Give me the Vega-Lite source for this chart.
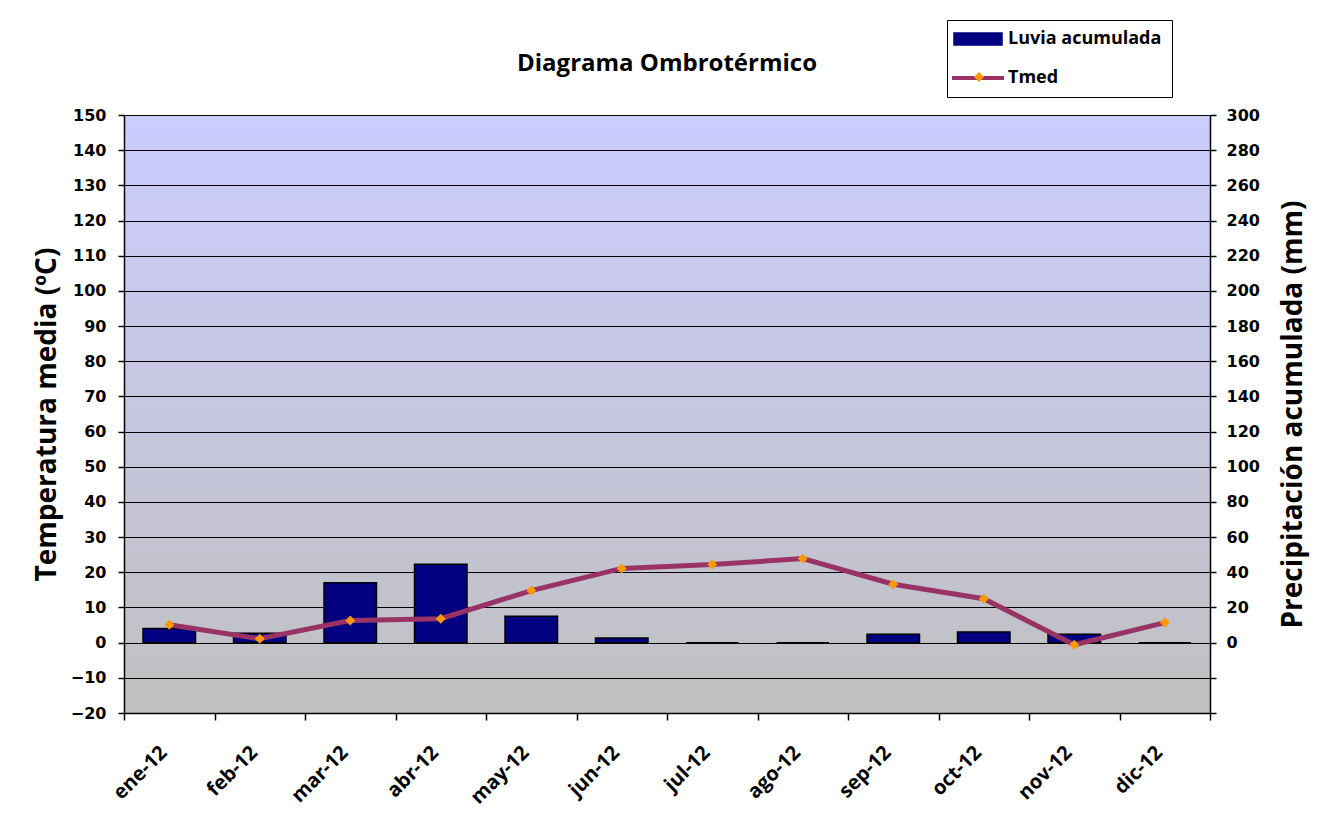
{
  "$schema": "https://vega.github.io/schema/vega-lite/v6.json",
  "width": 1086,
  "height": 598,
  "autosize": {"type": "none"},
  "padding": {"left": 124, "top": 115, "right": 111, "bottom": 124},
  "background": "white",
  "title": {"text": "Diagrama Ombrotérmico", "font": "Open Sans", "fontSize": 24, "fontWeight": "bold", "color": "black", "anchor": "middle", "offset": 44, "dy": 100},
  "config": {
    "view": {"stroke": "black", "strokeWidth": 1, "fill": {"gradient": "linear", "x1": 0, "y1": 0, "x2": 0, "y2": 1, "stops": [{"offset": 0, "color": "#ccccff"}, {"offset": 1, "color": "#c0c0c0"}]}},
    "axis": {"domainColor": "black", "tickColor": "black", "labelColor": "black", "titleColor": "black", "labelFont": "DejaVu Sans", "labelFontWeight": "bold", "labelFontSize": 16, "titleFont": "Open Sans", "titleFontWeight": "bold", "titleFontSize": 28, "domainWidth": 1.5, "tickWidth": 1.5}
  },
  "data": {"values": [
    {"mes": "ene-12", "tmed": 5.1, "lluvia": 8},
    {"mes": "feb-12", "tmed": 1.1, "lluvia": 5.4},
    {"mes": "mar-12", "tmed": 6.3, "lluvia": 34},
    {"mes": "abr-12", "tmed": 6.8, "lluvia": 44.6},
    {"mes": "may-12", "tmed": 14.8, "lluvia": 15},
    {"mes": "jun-12", "tmed": 21.1, "lluvia": 2.6},
    {"mes": "jul-12", "tmed": 22.2, "lluvia": 0},
    {"mes": "ago-12", "tmed": 23.9, "lluvia": 0},
    {"mes": "sep-12", "tmed": 16.6, "lluvia": 4.8},
    {"mes": "oct-12", "tmed": 12.5, "lluvia": 6},
    {"mes": "nov-12", "tmed": -0.6, "lluvia": 4.8},
    {"mes": "dic-12", "tmed": 5.7, "lluvia": 0}
  ]},
  "encoding": {
    "x": {"field": "mes", "type": "nominal", "sort": null,
      "scale": {"paddingInner": 0, "paddingOuter": 0},
      "axis": {"title": null, "labelAngle": -45, "tickBand": "extent", "tickSize": 7, "labelPadding": 22, "labelOffset": -13, "labelFont": "Open Sans", "labelFontSize": 20}}
  },
  "layer": [
    {
      "mark": {"type": "bar", "stroke": "black", "strokeWidth": 1.5, "width": {"band": 0.58}},
      "encoding": {
        "y": {"field": "lluvia", "type": "quantitative",
          "scale": {"domain": [-40, 300], "nice": false, "zero": true},
          "axis": {"orient": "right", "grid": false, "values": [-40, -20, 0, 20, 40, 60, 80, 100, 120, 140, 160, 180, 200, 220, 240, 260, 280, 300],
            "labelExpr": "datum.value < 0 ? '' : datum.label", "tickSize": 6, "labelPadding": 10,
            "title": "Precipitación acumulada (mm)", "titleAngle": 270, "titleBaseline": "top", "titlePadding": 20}},
        "color": {"datum": "Luvia acumulada",
          "scale": {"domain": ["Luvia acumulada", "Tmed"], "range": ["#000080", "#993366"]},
          "legend": {"orient": "none", "legendX": 823, "legendY": -95, "title": null,
            "padding": 10, "rowPadding": 21, "symbolSize": 400, "labelOffset": 33,
            "labelFont": "Open Sans", "labelFontWeight": "bold", "labelFontSize": 18, "labelColor": "black",
            "strokeColor": "black", "fillColor": "white",
            "encode": {"symbols": {"update": {
              "shape": {"signal": "datum.value === 'Tmed' ? 'M-1.4,0L3.8,0' : 'M-1.2,-0.6L3.6,-0.6L3.6,0.6L-1.2,0.6Z'"},
              "fill": {"signal": "datum.value === 'Tmed' ? 'transparent' : '#000080'"},
              "stroke": {"signal": "datum.value === 'Tmed' ? '#993366' : 'black'"},
              "strokeWidth": {"signal": "datum.value === 'Tmed' ? 4 : 1.5"},
              "opacity": {"value": 1}
            }}}}}
      }
    },
    {
      "encoding": {
        "y": {"field": "tmed", "type": "quantitative",
          "scale": {"domain": [-20, 150], "nice": false},
          "axis": {"orient": "left", "grid": true, "gridColor": "black", "gridWidth": 1.2, "gridOpacity": 1,
            "values": [-20, -10, 0, 10, 20, 30, 40, 50, 60, 70, 80, 90, 100, 110, 120, 130, 140, 150],
            "tickSize": 6, "labelPadding": 12, "title": "Temperatura media (ºC)", "titlePadding": 9}}
      },
      "layer": [
        {"mark": {"type": "line", "strokeWidth": 5},
         "encoding": {"color": {"datum": "Tmed",
          "legend": {"orient": "none", "legendX": 823, "legendY": -95, "title": null,
            "padding": 10, "rowPadding": 21, "symbolSize": 400, "labelOffset": 33,
            "labelFont": "Open Sans", "labelFontWeight": "bold", "labelFontSize": 18, "labelColor": "black",
            "strokeColor": "black", "fillColor": "white",
            "encode": {"symbols": {"update": {
              "shape": {"signal": "datum.value === 'Tmed' ? 'M-1.4,0L3.8,0' : 'M-1.2,-0.6L3.6,-0.6L3.6,0.6L-1.2,0.6Z'"},
              "fill": {"signal": "datum.value === 'Tmed' ? 'transparent' : '#000080'"},
              "stroke": {"signal": "datum.value === 'Tmed' ? '#993366' : 'black'"},
              "strokeWidth": {"signal": "datum.value === 'Tmed' ? 4 : 1.5"},
              "opacity": {"value": 1}
            }}}}}}},
        {"mark": {"type": "point", "filled": true, "color": "#FF9900", "size": 100, "opacity": 1},
         "encoding": {"shape": {"datum": "Tmed",
           "scale": {"domain": ["Tmed"], "range": ["diamond"]},
           "legend": {"orient": "none", "legendX": 850, "legendY": -43, "title": null, "padding": 0,
             "labelExpr": "''", "labelFontSize": 10, "symbolSize": 100,
             "symbolFillColor": "#FF9900", "symbolStrokeWidth": 0,
             "encode": {"symbols": {"update": {"fill": {"value": "#FF9900"}, "stroke": {"value": "transparent"}, "opacity": {"value": 1}}}}}}}}
      ]
    }
  ],
  "resolve": {"scale": {"y": "independent"}}
}
